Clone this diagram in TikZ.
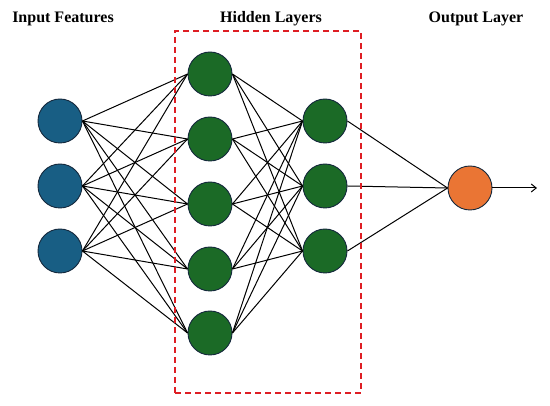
\documentclass[tikz,border=0pt]{standalone}
\usepackage{fontspec}
\setmainfont{Liberation Serif}
\usepackage{xcolor}
\usetikzlibrary{arrows.meta,positioning}
\definecolor{inblue}{RGB}{24,94,132}
\definecolor{hidgreen}{RGB}{27,106,38}
\definecolor{outorange}{RGB}{234,117,52}
\definecolor{dashred}{RGB}{222,30,36}
\definecolor{rimnavy}{RGB}{20,40,60}

\begin{document}
\begin{tikzpicture}[
  x=1pt,y=-1pt,
  neuron/.style={circle,draw=rimnavy,line width=0.9pt,minimum size=44pt,inner sep=0pt},
  link/.style={line width=1pt},
  arrow/.style={-{Straight Barb[length=5pt,width=8pt]},line width=1pt},
  title/.style={font=\bfseries\fontsize{16}{19}\selectfont}
]
\useasboundingbox (0,0) rectangle (550,406);
\node[title] (tin) at (63,19) {Input Features};
\node[title] (thid) at (271,19) {Hidden Layers};
\node[title] (tout) at (476,19) {Output Layer};
\foreach \i/\y in {1/121,2/186,3/251}
  \node[neuron,fill=inblue] (in\i) at (60,\y) {};
\foreach \i/\y in {1/74,2/139,3/204,4/269,5/333}
  \node[neuron,fill=hidgreen] (ha\i) at (210,\y) {};
\foreach \i/\y in {1/121,2/186,3/251}
  \node[neuron,fill=hidgreen] (hb\i) at (325,\y) {};
\node[neuron,fill=outorange] (out) at (470,188) {};
\coordinate (end) at (537,188);
\foreach \i in {1,2,3}
  \foreach \j in {1,...,5}
    \draw[link] (in\i.east) -- (ha\j.west);
\foreach \j in {1,...,5}
  \foreach \k in {1,2,3}
    \draw[link] (ha\j.east) -- (hb\k.west);
\foreach \k in {1,2,3}
  \draw[link] (hb\k.east) -- (out.west);
\draw[arrow] (out.east) -- (end);
\node[draw=dashred,line width=1.2pt,dash pattern=on 6pt off 4pt,
  minimum width=186pt,minimum height=362pt,inner sep=0pt] (hidbox) at (268,212) {};
\end{tikzpicture}
\end{document}
